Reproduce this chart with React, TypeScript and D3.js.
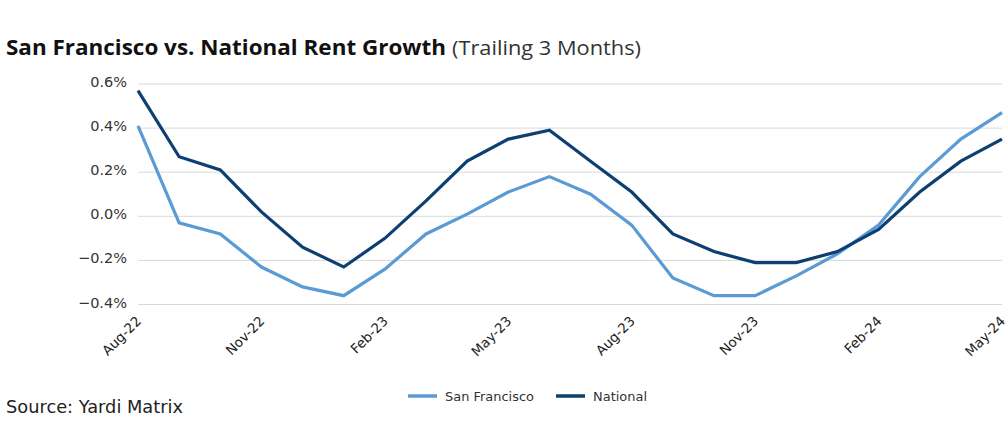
import React, { useEffect, useRef } from "react";
import * as d3 from "d3";

const months = [
  "Aug-22", "Sep-22", "Oct-22", "Nov-22", "Dec-22", "Jan-23", "Feb-23", "Mar-23",
  "Apr-23", "May-23", "Jun-23", "Jul-23", "Aug-23", "Sep-23", "Oct-23", "Nov-23",
  "Dec-23", "Jan-24", "Feb-24", "Mar-24", "Apr-24", "May-24",
];
const sanFrancisco = [
  0.41, -0.03, -0.08, -0.23, -0.32, -0.36, -0.24, -0.08, 0.01, 0.11, 0.18, 0.1,
  -0.04, -0.28, -0.36, -0.36, -0.27, -0.17, -0.04, 0.18, 0.35, 0.47,
];
const national = [
  0.57, 0.27, 0.21, 0.02, -0.14, -0.23, -0.1, 0.07, 0.25, 0.35, 0.39, 0.25,
  0.11, -0.08, -0.16, -0.21, -0.21, -0.16, -0.06, 0.11, 0.25, 0.35,
];
const yTicks = [0.6, 0.4, 0.2, 0.0, -0.2, -0.4];
const xTickLabels = ["Aug-22", "Nov-22", "Feb-23", "May-23", "Aug-23", "Nov-23", "Feb-24", "May-24"];

const series = [
  { name: "San Francisco", values: sanFrancisco, color: "#5b9bd5" },
  { name: "National", values: national, color: "#0d3f72" },
];

const App = () => {
  const ref = useRef<SVGSVGElement>(null);

  useEffect(() => {
    document.body.style.margin = "0";
    const width = 1007, height = 433;
    const svg = d3.select(ref.current).attr("width", width).attr("height", height);
    svg.selectAll("*").remove();
    const font = "'Open Sans', sans-serif";
    const tickFont = "'DejaVu Sans', sans-serif";

    const x = d3.scalePoint<string>().domain(months).range([138, 1002]);
    const y = d3.scaleLinear().domain([-0.4, 0.6]).range([304.5, 84]);

    // title, stretched to the reference widths
    svg.append("text").attr("x", 6).attr("y", 55)
      .attr("font-family", font).attr("font-size", 21).attr("font-weight", 700)
      .attr("fill", "#111").attr("textLength", 440).attr("lengthAdjust", "spacingAndGlyphs")
      .text("San Francisco vs. National Rent Growth");
    svg.append("text").attr("x", 452).attr("y", 55)
      .attr("font-family", font).attr("font-size", 20.5).attr("font-weight", 400)
      .attr("fill", "#333").attr("textLength", 189).attr("lengthAdjust", "spacingAndGlyphs")
      .text("(Trailing 3 Months)");

    // grid
    svg.append("g").selectAll("line").data(yTicks).enter().append("line")
      .attr("x1", 138).attr("x2", 1002)
      .attr("y1", d => y(d)).attr("y2", d => y(d))
      .attr("stroke", "#d9d9d9").attr("stroke-width", 1);

    svg.append("g").selectAll("text").data(yTicks).enter().append("text")
      .attr("x", 127).attr("y", d => y(d) + 3)
      .attr("text-anchor", "end").attr("font-family", tickFont).attr("font-size", 14.5)
      .attr("fill", "#333").text(d => d3.format(".1f")(d) + "%");

    // x labels
    svg.append("g").selectAll("text").data(xTickLabels).enter().append("text")
      .attr("transform", d => `translate(${x(d)! + 4},${322}) rotate(-45)`)
      .attr("text-anchor", "end").attr("font-family", tickFont).attr("font-size", 13.5)
      .attr("fill", "#222").text(d => d);

    // lines
    const line = d3.line<number>().x((_, i) => x(months[i])!).y(d => y(d));
    series.forEach(s => {
      svg.append("path").datum(s.values).attr("d", line)
        .attr("fill", "none").attr("stroke", s.color).attr("stroke-width", 3.2);
    });

    // legend
    const legendX = [408, 556];
    const legendW = [89, 54];
    series.forEach((s, i) => {
      const g = svg.append("g").attr("transform", `translate(${legendX[i]},396)`);
      g.append("line").attr("x1", 0).attr("x2", 29).attr("y1", 0).attr("y2", 0)
        .attr("stroke", s.color).attr("stroke-width", 3.5);
      g.append("text").attr("x", 37).attr("y", 4.5).attr("font-family", tickFont)
        .attr("font-size", 12.5).attr("fill", "#333")
        .attr("textLength", legendW[i]).attr("lengthAdjust", "spacingAndGlyphs").text(s.name);
    });

    svg.append("text").attr("x", 6).attr("y", 413).attr("font-family", tickFont)
      .attr("font-size", 18).attr("fill", "#222")
      .attr("textLength", 177).attr("lengthAdjust", "spacingAndGlyphs").text("Source: Yardi Matrix");
  }, []);

  return <svg ref={ref}></svg>;
};

export default App;
